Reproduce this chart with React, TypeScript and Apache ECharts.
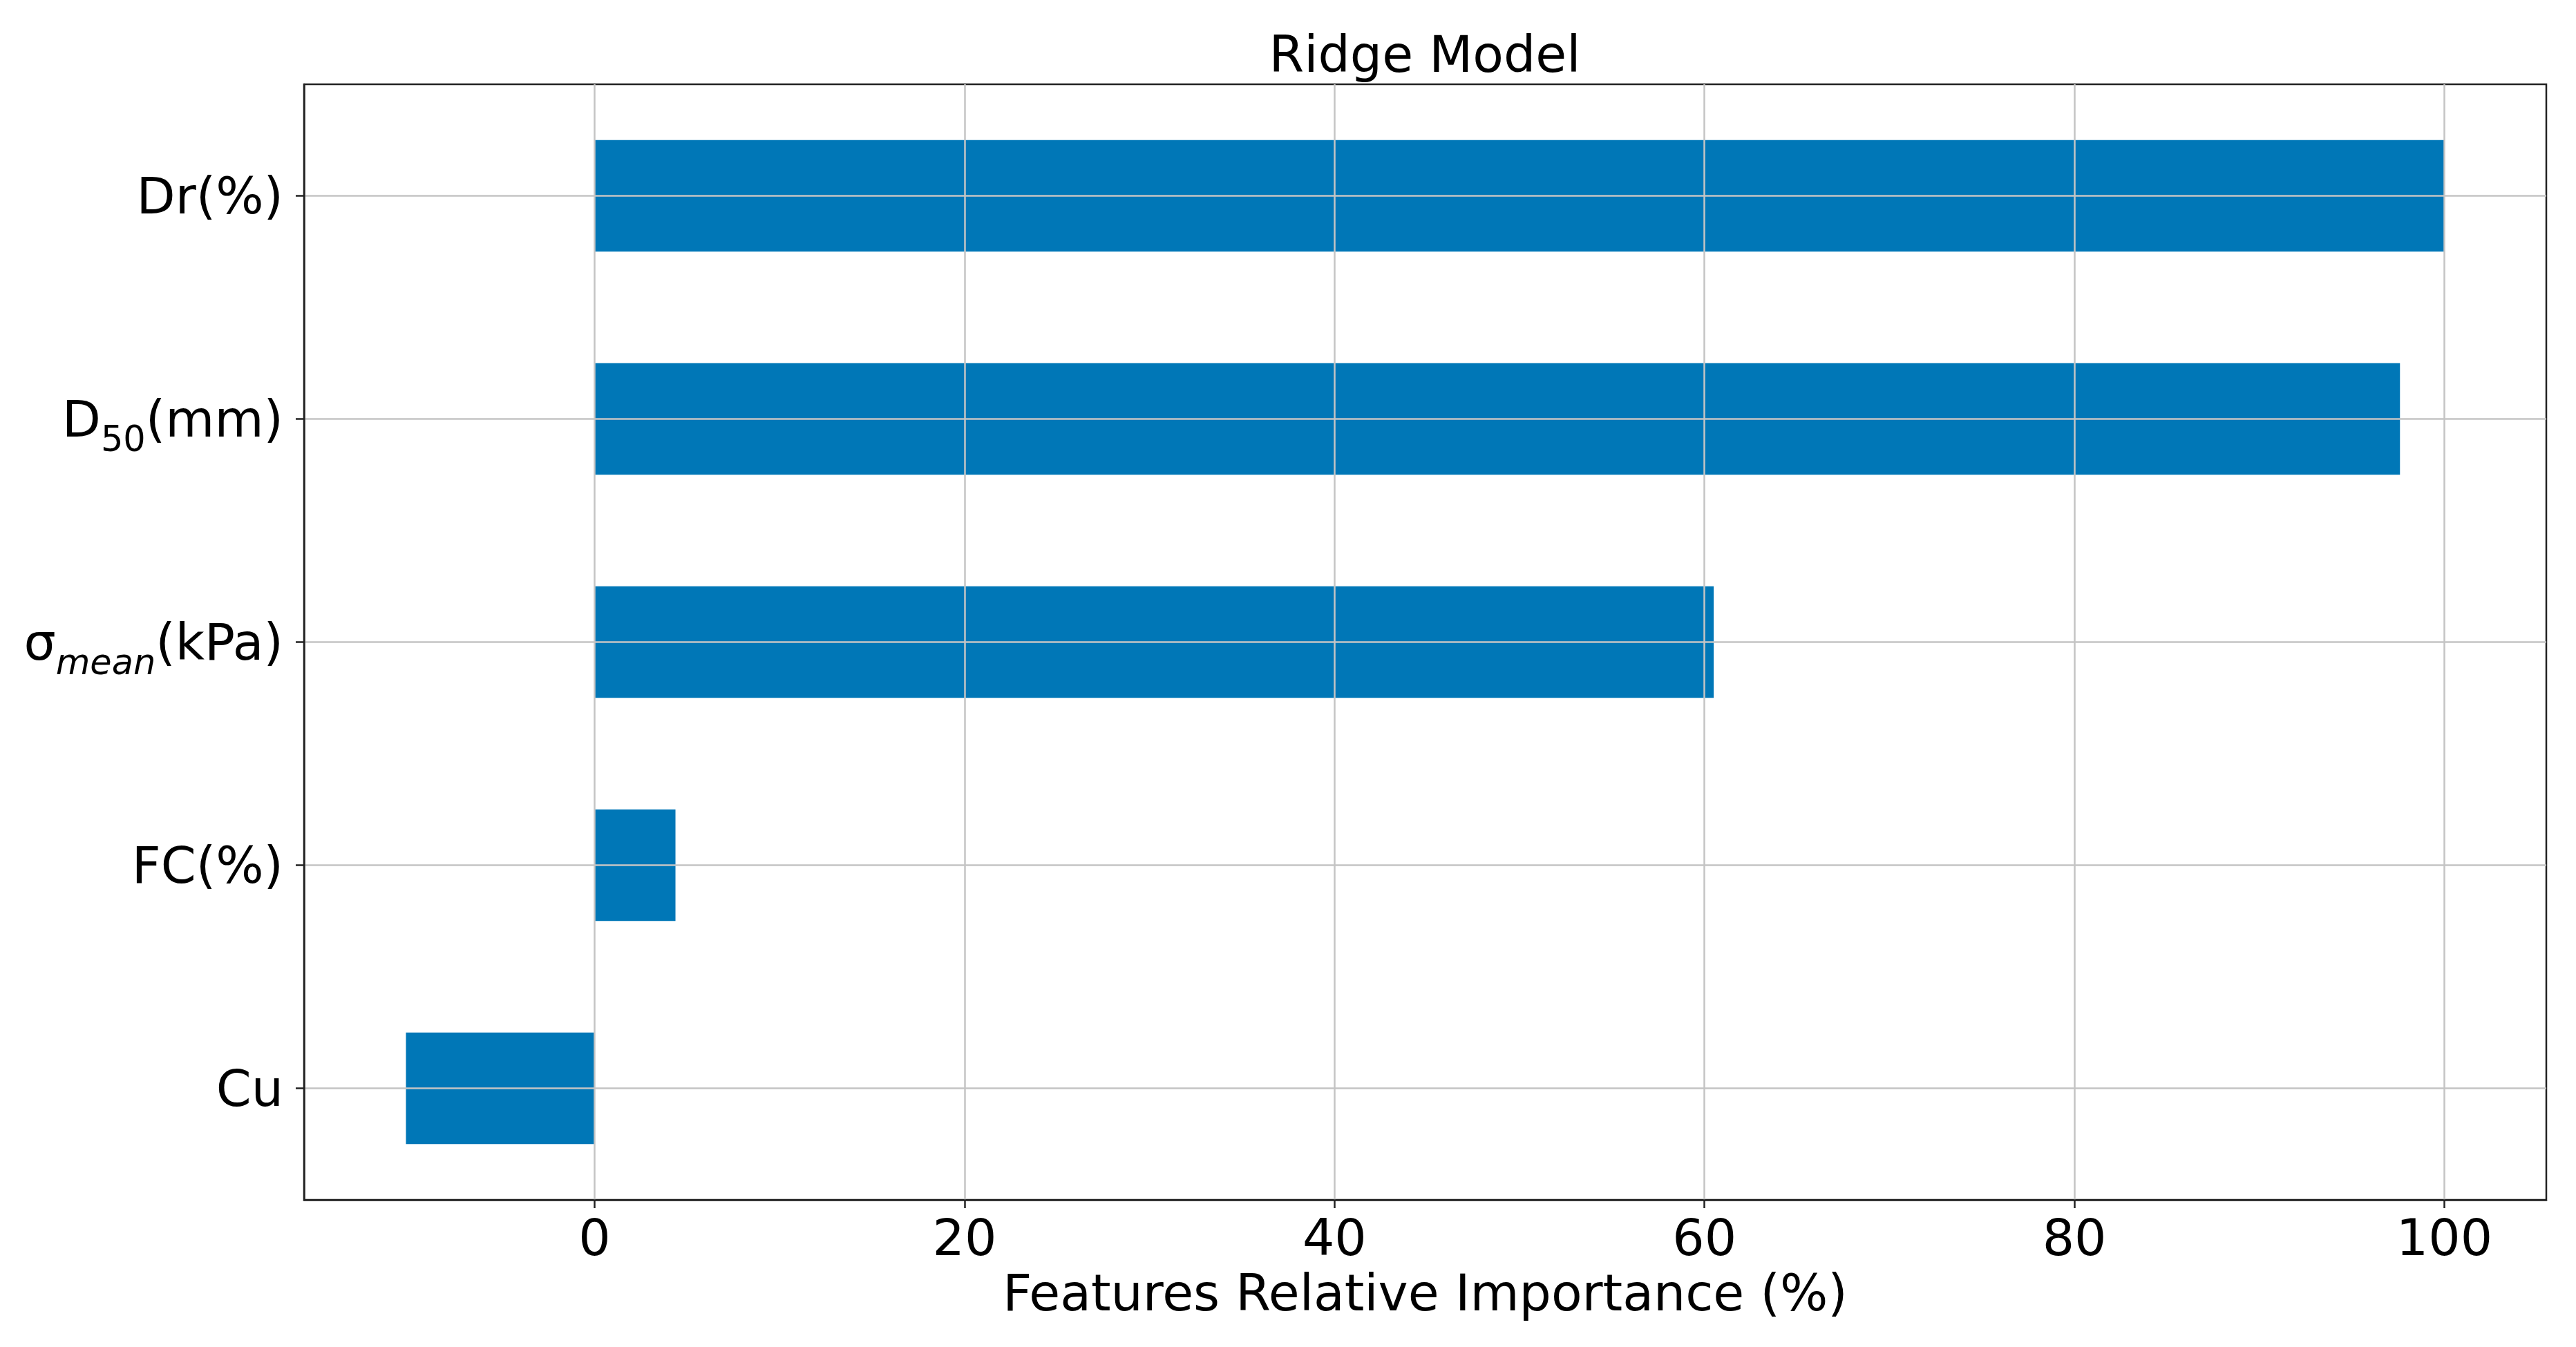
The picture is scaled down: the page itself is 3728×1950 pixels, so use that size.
import React, { useEffect, useRef } from "react";
import * as echarts from "echarts";

const categories = ["Dr(%)", "D50(mm)", "σmean(kPa)", "FC(%)", "Cu"];
const importance = [100, 97.6, 60.5, 4.37, -10.2];
const xTicks = [0, 20, 40, 60, 80, 100];
const xMin = -15.71;
const xMax = 105.51;
const titleText = "Ridge Model";
const xAxisTitle = "Features Relative Importance (%)";

const FONT = "DejaVu Sans";
const FS = 73;
const SUB = 51;

const richLabels: Record<string, string> = {
  "D50(mm)": "{m|D}{sub|50}{m|(mm)}",
  "σmean(kPa)": "{m|σ}{subi|mean}{m|(kPa)}",
};

export default function App() {
  const ref = useRef<HTMLDivElement>(null);
  useEffect(() => {
    if (!ref.current) return;
    const chart = echarts.init(ref.current, null, { renderer: "svg" });
    const option: any = {
      animation: false,
      backgroundColor: "#ffffff",
      textStyle: { fontFamily: FONT },
      graphic: [
        {
          type: "text",
          x: 2062,
          y: 42,
          style: {
            text: titleText,
            textAlign: "center",
            textVerticalAlign: "top",
            fontSize: FS,
            fontFamily: FONT,
            fill: "#000000",
          },
        },
      ],
      grid: {
        left: 440,
        top: 122,
        right: 43,
        bottom: 213,
        show: true,
        borderColor: "#222222",
        borderWidth: 2.5,
        backgroundColor: "transparent",
      },
      xAxis: {
        type: "value",
        min: xMin,
        max: xMax,
        z: 3,
        axisLine: { show: true, lineStyle: { color: "#222222", width: 2.5 } },
        axisTick: {
          show: true,
          length: 12,
          lineStyle: { color: "#222222", width: 2.5 },
          customValues: xTicks,
        },
        axisLabel: {
          customValues: xTicks,
          fontSize: FS,
          fontFamily: FONT,
          color: "#000000",
          margin: 18,
          lineHeight: FS,
        },
        splitLine: {
          show: true,
          lineStyle: { color: "#c4c4c4", width: 2.5 },
        },
        name: xAxisTitle,
        nameLocation: "middle",
        nameGap: 98,
        nameTextStyle: {
          fontSize: FS,
          fontFamily: FONT,
          color: "#000000",
          lineHeight: FS,
        },
      },
      yAxis: {
        type: "category",
        data: categories,
        inverse: true,
        z: 3,
        axisLine: { show: true, onZero: false, lineStyle: { color: "#222222", width: 2.5 } },
        axisTick: {
          show: true,
          alignWithLabel: true,
          length: 12,
          lineStyle: { color: "#222222", width: 2.5 },
        },
        splitLine: {
          show: true,
          alignWithLabel: true,
          lineStyle: { color: "#c4c4c4", width: 2.5 },
        },
        axisLabel: {
          fontSize: FS,
          fontFamily: FONT,
          color: "#000000",
          margin: 30,
          lineHeight: FS,
          formatter: (v: string) => richLabels[v] || v,
          rich: {
            m: {
              fontSize: FS,
              fontFamily: FONT,
              color: "#000000",
              lineHeight: FS,
            },
            sub: {
              fontSize: SUB,
              fontFamily: FONT,
              color: "#000000",
              lineHeight: 34,
              verticalAlign: "top",
              padding: [40, 0, 0, 0],
            },
            subi: {
              fontSize: SUB,
              fontFamily: FONT,
              fontStyle: "italic",
              color: "#000000",
              lineHeight: 34,
              verticalAlign: "top",
              padding: [40, 0, 0, 0],
            },
          },
        },
      },
      series: [
        {
          type: "bar",
          data: importance,
          barWidth: "50%",
          itemStyle: { color: "#0077b7" },
        },
      ],
    };
    chart.setOption(option);
    return () => chart.dispose();
  }, []);
  return (
    <div
      ref={ref}
      style={{ position: "absolute", left: 0, top: 0, width: 3728, height: 1950, background: "#fff" }}
    />
  );
}
